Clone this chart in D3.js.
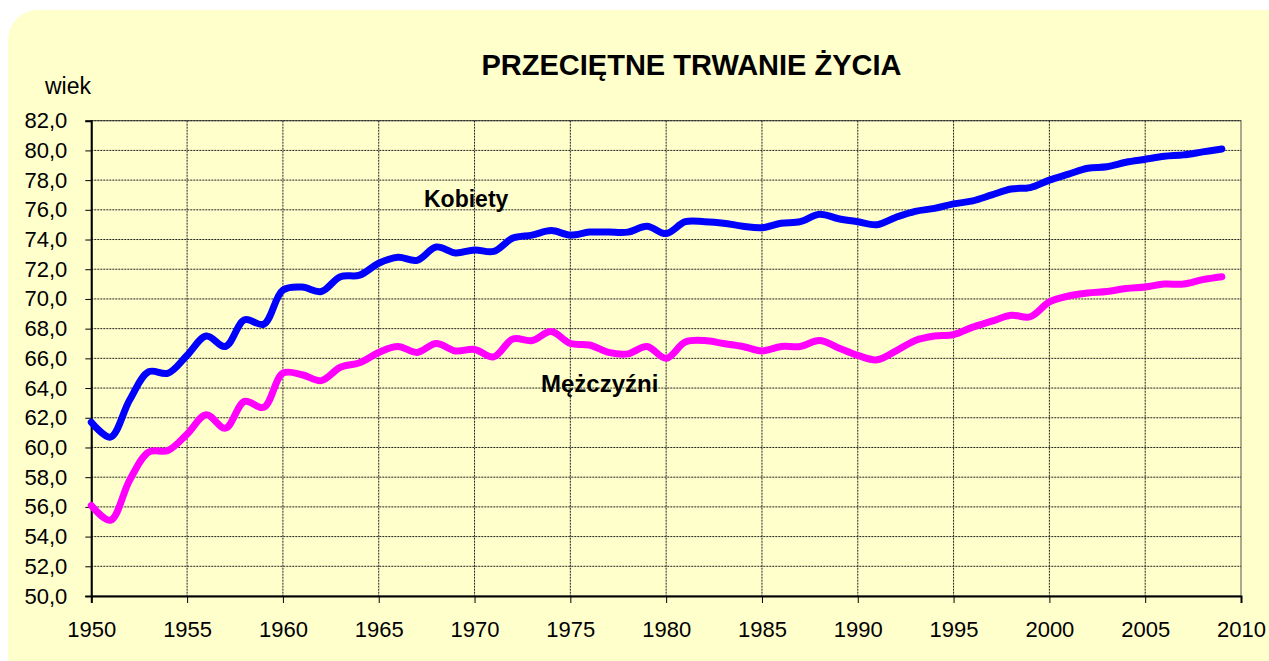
<!DOCTYPE html>
<html>
<head>
<meta charset="utf-8">
<script src="https://cdn.jsdelivr.net/npm/d3@7"></script>
<style>
  html, body { margin: 0; padding: 0; background: #ffffff; }
  svg { display: block; }
  text { font-family: Arial, "Liberation Sans", sans-serif; }
</style>
</head>
<body>
<svg id="chart" width="1269" height="661"></svg>
<script>
const years = d3.range(1950, 2010);
const kobiety = [
  61.7, 60.7, 63.2, 65.1, 65.0, 66.2, 67.5, 66.8, 68.6, 68.3,
  70.6, 70.8, 70.5, 71.5, 71.6, 72.4, 72.8, 72.6, 73.5, 73.1,
  73.3, 73.2, 74.1, 74.3, 74.6, 74.3, 74.5, 74.5, 74.5, 74.9,
  74.4, 75.2, 75.2, 75.1, 74.9, 74.8, 75.1, 75.2, 75.7, 75.4,
  75.2, 75.0, 75.5, 75.9, 76.1, 76.4, 76.6, 77.0, 77.4, 77.5,
  78.0, 78.4, 78.8, 78.9, 79.2, 79.4, 79.6, 79.7, 79.9, 80.1
];
const mezczyzni = [
  56.1, 55.1, 57.8, 59.7, 59.8, 60.9, 62.2, 61.3, 63.1, 62.7,
  65.0, 64.9, 64.5, 65.4, 65.7, 66.4, 66.8, 66.4, 67.0, 66.5,
  66.6, 66.1, 67.3, 67.2, 67.8, 67.0, 66.9, 66.4, 66.3, 66.8,
  66.0, 67.1, 67.2, 67.0, 66.8, 66.5, 66.8, 66.8, 67.2, 66.7,
  66.2, 65.9, 66.5, 67.2, 67.5, 67.6, 68.1, 68.5, 68.9, 68.8,
  69.8, 70.2, 70.4, 70.5, 70.7, 70.8, 71.0, 71.0, 71.3, 71.5
];
const xTicks = [1950, 1955, 1960, 1965, 1970, 1975, 1980, 1985, 1990, 1995, 2000, 2005, 2010];
const yTicks = d3.range(50, 82.001, 2);
const title = "PRZECIĘTNE TRWANIE ŻYCIA";
const yLabel = "wiek";
const seriesNames = ["Kobiety", "Mężczyźni"];

const svg = d3.select("#chart");
const W = 1269, H = 661;
const L = 91.3, R = 1241, T = 120.7, B = 596;

// background panel
svg.append("rect").attr("x", 8).attr("y", 10).attr("width", W + 30).attr("height", H + 30)
  .attr("rx", 30).attr("ry", 30).attr("fill", "#FFFFCC");

const x = d3.scaleLinear().domain([1950, 2010]).range([L, R]);
const y = d3.scaleLinear().domain([50, 82]).range([B, T]);

// plot area
svg.append("rect").attr("x", L).attr("y", T).attr("width", R - L).attr("height", B - T)
  .attr("fill", "#FFFFCC").attr("stroke", "#555").attr("stroke-width", 1);

// grid lines
const grid = svg.append("g");
grid.selectAll("line.h").data(yTicks.filter(d => d > 50)).join("line")
  .attr("x1", L).attr("x2", R).attr("y1", d => y(d)).attr("y2", d => y(d))
  .attr("stroke", "#222").attr("stroke-width", 1).attr("stroke-dasharray", "2,1");
grid.selectAll("line.v").data(xTicks.filter(d => d > 1950 && d < 2010)).join("line")
  .attr("x1", d => x(d)).attr("x2", d => x(d)).attr("y1", T).attr("y2", B)
  .attr("stroke", "#222").attr("stroke-width", 1).attr("stroke-dasharray", "2,1");

// axes
const yAxis = d3.axisLeft(y).tickValues(yTicks).tickSize(6).tickPadding(18)
  .tickFormat(d => d3.format(".1f")(d).replace(".", ","));
const gy = svg.append("g").attr("transform", `translate(${L},0)`).call(yAxis);
const xAxis = d3.axisBottom(x).tickValues(xTicks).tickSize(7).tickPadding(18).tickFormat(d3.format("d"));
const gx = svg.append("g").attr("transform", `translate(0,${B})`).call(xAxis);
[gx, gy].forEach(g => {
  g.select(".domain").attr("stroke", "#000").attr("stroke-width", 2);
  g.selectAll(".tick line").attr("stroke", "#000").attr("stroke-width", 1);
  g.selectAll(".tick text").attr("fill", "#000").style("font-size", "22px")
    .style("font-family", "Arial, 'Liberation Sans', sans-serif");
});

// lines
const line = d3.line().x((d, i) => x(years[i])).y(d => y(d)).curve(d3.curveCatmullRom.alpha(0.5));
svg.append("path").datum(mezczyzni).attr("d", line).attr("fill", "none")
  .attr("stroke", "#FF00FF").attr("stroke-width", 7).attr("stroke-linecap", "round").attr("stroke-linejoin", "round");
svg.append("path").datum(kobiety).attr("d", line).attr("fill", "none")
  .attr("stroke", "#0000FF").attr("stroke-width", 7).attr("stroke-linecap", "round").attr("stroke-linejoin", "round");

// texts
svg.append("text").attr("x", 691.5).attr("y", 75).attr("text-anchor", "middle")
  .style("font-size", "29px").style("font-weight", "bold").text(title);
svg.append("text").attr("x", 45).attr("y", 94).style("font-size", "23px").text(yLabel);
svg.append("text").attr("x", 424).attr("y", 206.5).style("font-size", "23px").style("font-weight", "bold").text(seriesNames[0]);
svg.append("text").attr("x", 541).attr("y", 391.5).style("font-size", "24px").style("font-weight", "bold").text(seriesNames[1]);
</script>
</body>
</html>
